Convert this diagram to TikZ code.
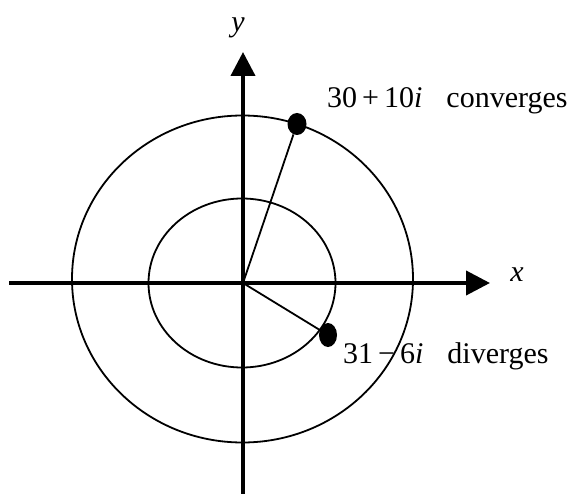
\documentclass[tikz,border=0pt]{standalone}
\usepackage{fontspec}
\setmainfont{Liberation Serif}
\usetikzlibrary{arrows.meta,shapes.geometric}
\begin{document}
\begin{tikzpicture}[x=1pt,y=-1pt,
  axis/.style={line width=4pt,-{Triangle[length=24pt,width=24pt]}},
  curve/.style={line width=1.8pt},
  ray/.style={line width=1.8pt},
  dotmark/.style={ellipse,fill=black,draw=none,inner sep=0pt},
  lbl/.style={font=\fontsize{30}{34}\selectfont,inner sep=0pt}]
\useasboundingbox (0,0) rectangle (575,494);
\coordinate (O) at (243,283);
\coordinate (xl) at (9,283);
\coordinate (xr) at (490,283);
\coordinate (yb) at (243,494);
\coordinate (yt) at (243,52);
\draw[curve] (242.5,279) ellipse [x radius=170.5pt, y radius=163.5pt];
\draw[curve] (242,283) ellipse [x radius=93.5pt, y radius=84.5pt];
\draw[axis] (xl) -- (xr);
\draw[axis] (yb) -- (yt);
\node[dotmark,minimum width=19pt,minimum height=22pt] (d1) at (297,124) {};
\node[dotmark,minimum width=18pt,minimum height=24pt] (d2) at (328,335) {};
\draw[ray] (O) -- (d1);
\draw[ray] (O) -- (d2);
\node[lbl,anchor=base] (ly) at (238,32) {\textit{y}};
\node[lbl,anchor=base] (lx) at (517,281) {\textit{x}};
\node[lbl,anchor=base west] (t1) at (327,108) {30\,+\,10\textit{i}\hspace{0.8em}converges};
\node[lbl,anchor=base west] (t2) at (343,363) {31\,−\,6\textit{i}\hspace{0.8em}diverges};
\end{tikzpicture}
\end{document}
